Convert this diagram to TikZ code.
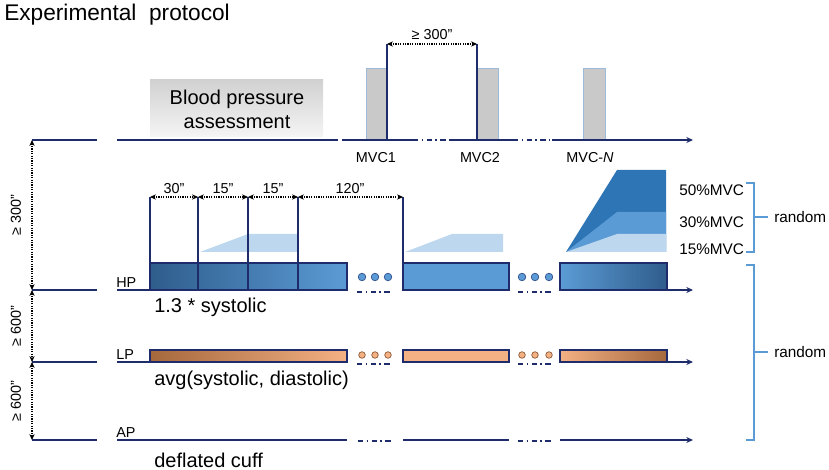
\documentclass[tikz,border=0pt]{standalone}
\usepackage{fontspec}
\setmainfont{Liberation Sans}
\usetikzlibrary{arrows.meta}

\definecolor{navy}{HTML}{1F2C6C}
\definecolor{bluedark}{HTML}{2E75B6}
\definecolor{bluemid}{HTML}{5B9BD5}
\definecolor{bluelight}{HTML}{BDD7EE}
\definecolor{bluedeep}{HTML}{2F5D8C}
\definecolor{orangelight}{HTML}{F4B183}
\definecolor{orangedark}{HTML}{A5683C}
\definecolor{bargray}{HTML}{C9C9C9}
\definecolor{baredge}{HTML}{9DB9DC}

\begin{document}
\begin{tikzpicture}[x=0.75pt,y=0.75pt,yscale=-1,
  axis/.style={draw=navy,line width=1.1pt},
  gapline/.style={draw=navy,line width=1.1pt,dash pattern=on 4pt off 2.5pt on 1.2pt off 2.5pt},
  endarrow/.style={-{Stealth[length=5pt,width=4.5pt]}},
  dimline/.style={draw=black,line width=0.9pt,dash pattern=on 0.9pt off 0.9pt,{Stealth[length=4.5pt,width=4pt]}-{Stealth[length=4.5pt,width=4pt]}},
  marker/.style={draw=navy,line width=1.1pt},
  mvcbar/.style={fill=bargray,draw=baredge,line width=0.6pt},
  hpbar/.style={draw=navy,line width=0.8pt},
  hpdot/.style={fill=bluemid,draw=navy!70!bluemid,line width=0.5pt},
  lpdot/.style={fill=orangelight,draw=orangedark!80!black,line width=0.5pt},
  brace/.style={draw=bluemid,line width=1.1pt},
  big/.style={inner sep=0.75pt,font=\fontsize{15}{18}\selectfont},
  small/.style={inner sep=0.75pt,font=\fontsize{10.8}{12}\selectfont},
  mid/.style={inner sep=0.75pt,font=\fontsize{11.5}{13}\selectfont}]
\useasboundingbox (0,0) rectangle (829,470);

% Title
\node[anchor=west,inner sep=0pt,font=\fontsize{17}{20}\selectfont] (title) at (4,15) {Experimental\ \ protocol};

%Shape: Rectangle (blood pressure assessment)
\shade[top color=black!18,bottom color=black!4] (150,80) rectangle (323,137);
\node[big,align=center] (bpa) at (237,109) {Blood pressure\\assessment};

%Shape: MVC bars
\draw[mvcbar] (366,68) rectangle (387,140);
\draw[mvcbar] (477,68) rectangle (498,140);
\draw[mvcbar] (583,68) rectangle (605,140);

%Straight Lines: MVC time line
\draw[axis] (32,140) -- (97,140);
\draw[axis] (117,140) -- (333,140);
\draw[gapline] (333,140) -- (343,140);
\draw[axis] (343,140) -- (413,140);
\draw[gapline] (413,140) -- (450,140);
\draw[axis] (450,140) -- (513,140);
\draw[gapline] (513,140) -- (552,140);
\draw[axis,endarrow] (552,140) -- (693,140);

%Straight Lines: MVC markers
\coordinate (m1) at (387,44);
\coordinate (m2) at (477,44);
\draw[marker] (387,140) -- (m1);
\draw[marker] (477,140) -- (m2);
\draw[dimline] (m1) -- (m2);
\node[small,anchor=south] (d300) at (432,41) {≥ 300”};

% Text Node
\node[small] (mvc1) at (376,158) {MVC1};
\node[small] (mvc2) at (480,158) {MVC2};
\node[small] (mvcn) at (590,158) {MVC-\textit{N}};

%Shape: HP bars
\shade[left color=bluedeep,right color=bluemid] (150,263) rectangle (347,290);
\draw[hpbar] (150,263) rectangle (347,290);
\fill[bluemid] (403,263) rectangle (509,290);
\draw[hpbar] (403,263) rectangle (509,290);
\shade[left color=bluemid,right color=bluedeep] (560,263) rectangle (667,290);
\draw[hpbar] (560,263) rectangle (667,290);

%Shape: contraction ramps
\fill[bluelight] (200,252) -- (248,234) -- (297,234) -- (297,252) -- cycle;
\fill[bluelight] (405,252) -- (452,234) -- (503,234) -- (503,252) -- cycle;
\fill[bluedark] (566,252) -- (617,170) -- (666,170) -- (666,252) -- cycle;
\fill[bluemid] (566,252) -- (617,212) -- (666,212) -- (666,252) -- cycle;
\fill[bluelight] (566,252) -- (617,234) -- (666,234) -- (666,252) -- cycle;

%Straight Lines: HP markers
\coordinate (h1) at (150,197);
\coordinate (h2) at (198,197);
\coordinate (h3) at (248,197);
\coordinate (h4) at (298,197);
\coordinate (h5) at (403,197);
\draw[marker] (h1) -- (150,290);
\draw[marker] (h2) -- (198,290);
\draw[marker] (h3) -- (248,290);
\draw[marker] (h4) -- (298,290);
\draw[marker] (h5) -- (403,290);
\draw[dimline] (h1) -- (h2);
\draw[dimline] (h2) -- (h3);
\draw[dimline] (h3) -- (h4);
\draw[dimline] (h4) -- (h5);
\node[small,anchor=south] (d30) at (174,195) {30”};
\node[small,anchor=south] (d15a) at (223,195) {15”};
\node[small,anchor=south] (d15b) at (273,195) {15”};
\node[small,anchor=south] (d120) at (350,195) {120”};

%Straight Lines: HP time line
\draw[axis] (32,290) -- (97,290);
\draw[axis] (117,290) -- (150,290);
\draw[gapline] (357,292) -- (392,292);
\draw[gapline] (518,292) -- (552,292);
\draw[axis,endarrow] (667,290) -- (693,290);
\draw[hpdot] (362,277) circle (3.8);
\draw[hpdot] (375,277) circle (3.8);
\draw[hpdot] (388,277) circle (3.8);
\draw[hpdot] (522,277) circle (3.8);
\draw[hpdot] (535,277) circle (3.8);
\draw[hpdot] (549,277) circle (3.8);

%Shape: LP bars
\shade[left color=orangedark,right color=orangelight] (150,350) rectangle (347,362);
\draw[hpbar] (150,350) rectangle (347,362);
\fill[orangelight] (403,350) rectangle (509,362);
\draw[hpbar] (403,350) rectangle (509,362);
\shade[left color=orangelight,right color=orangedark] (560,350) rectangle (667,362);
\draw[hpbar] (560,350) rectangle (667,362);

%Straight Lines: LP time line
\draw[axis] (32,362) -- (97,362);
\draw[axis] (117,362) -- (150,362);
\draw[gapline] (357,364) -- (392,364);
\draw[gapline] (518,364) -- (552,364);
\draw[axis,endarrow] (667,362) -- (693,362);
\draw[lpdot] (362,355) circle (3.3);
\draw[lpdot] (375,355) circle (3.3);
\draw[lpdot] (388,355) circle (3.3);
\draw[lpdot] (522,355) circle (3.3);
\draw[lpdot] (535,355) circle (3.3);
\draw[lpdot] (549,355) circle (3.3);

%Straight Lines: AP time line
\draw[axis] (32,440) -- (97,440);
\draw[axis] (117,440) -- (347,440);
\draw[gapline] (358,441) -- (392,441);
\draw[axis] (403,440) -- (509,440);
\draw[gapline] (518,441) -- (552,441);
\draw[axis,endarrow] (560,440) -- (693,440);

% Text Node
\node[small,anchor=south west] (hp) at (115,289) {HP};
\node[small,anchor=south west] (lp) at (115,361) {LP};
\node[small,anchor=south west] (ap) at (115,439) {AP};
\node[big,anchor=west] (sys) at (153,307) {1.3 * systolic};
\node[big,anchor=west] (avg) at (153,380) {avg(systolic, diastolic)};
\node[big,anchor=west] (cuff) at (153,460) {deflated cuff};

%Straight Lines: rest intervals
\coordinate (r0) at (32,140);
\coordinate (r1) at (32,290);
\coordinate (r2) at (32,362);
\coordinate (r3) at (32,440);
\draw[dimline] (r0) -- (r1);
\draw[dimline] (r1) -- (r2);
\draw[dimline] (r2) -- (r3);
\node[small,rotate=90] (rest1) at (16,215) {≥ 300”};
\node[small,rotate=90] (rest2) at (16,326) {≥ 600”};
\node[small,rotate=90] (rest3) at (16,401) {≥ 600”};

% Text Node: force levels
\node[mid,anchor=west] (f50) at (678,190) {50\%MVC};
\node[mid,anchor=west] (f30) at (678,222) {30\%MVC};
\node[mid,anchor=west] (f15) at (678,249) {15\%MVC};

%Shape: braces
\draw[brace] (746,183) -- (754,183) -- (754,252) -- (746,252);
\draw[brace] (754,217) -- (768,217);
\node[mid,anchor=west] (rnd1) at (773,217) {random};
\draw[brace] (746,265) -- (754,265) -- (754,440) -- (746,440);
\draw[brace] (754,352) -- (768,352);
\node[mid,anchor=west] (rnd2) at (773,352) {random};

\end{tikzpicture}
\end{document}
